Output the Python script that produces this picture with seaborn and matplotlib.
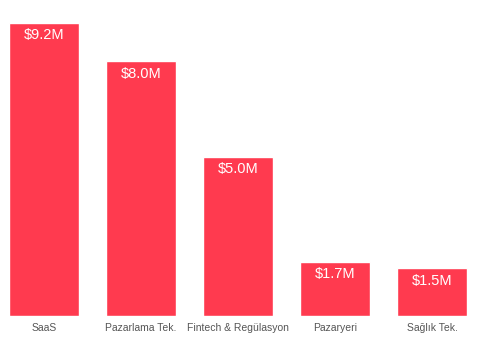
import seaborn as sns
import matplotlib.pyplot as plt
import pandas as pd

# funding per sector, in millions of dollars
sectors = ["SaaS", "Pazarlama Tek.", "Fintech & Regülasyon", "Pazaryeri", "Sağlık Tek."]
funding = [9.2, 8.0, 5.0, 1.7, 1.5]
labels = ["$9.2M", "$8.0M", "$5.0M", "$1.7M", "$1.5M"]

df = pd.DataFrame({"sector": sectors, "funding": funding})

sns.set_style("white")
plt.rcParams["font.family"] = ["Liberation Sans", "DejaVu Sans"]

fig = plt.figure(figsize=(4.85, 3.6), dpi=100)
ax = fig.add_axes([0, 0.1222, 1, 0.8778])

sns.barplot(data=df, x="sector", y="funding", color="#FF3A4F",
            saturation=1, width=0.72, ax=ax)

for bar, lab in zip(ax.patches, labels):
    ax.annotate(lab, (bar.get_x() + bar.get_width() / 2, bar.get_height()),
                xytext=(0, -4), textcoords="offset points",
                ha="center", va="top", color="white", fontsize=10.5)

ax.set_xlim(-0.4536, 4.546)
ax.set_ylim(0, 9.92)
ax.set_xlabel("")
ax.set_ylabel("")
ax.set_yticks([])
ax.tick_params(axis="x", length=0, pad=5, labelsize=7.5, labelcolor="#555555")
sns.despine(ax=ax, left=True, bottom=True)

fig.savefig("out.png", dpi=100)
